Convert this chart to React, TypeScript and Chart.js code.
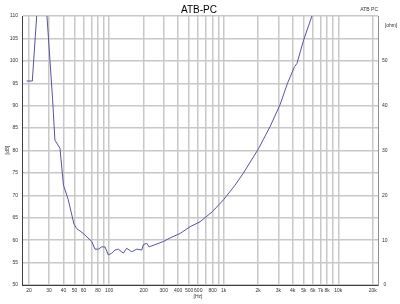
import React, { useEffect, useRef } from "react";
import { Chart, registerables } from "chart.js";

Chart.register(...registerables);

const freqHz = [19.1, 21.4, 25.9, 32.2, 33.7, 37.3, 40, 44.1, 49.4, 52.2, 59.6, 70.6, 75.4, 80.6, 86.3, 92.2, 98.5, 105.5, 112.8, 120.5, 133.2, 142.6, 157.7, 174.5, 192.9, 199.2, 213.4, 223.5, 297.9, 340.6, 416.6, 509.5, 622.6, 800, 996, 1250, 1489, 2014, 2547, 3112, 3604, 4152, 4357, 4978, 5888, 6500];
const levelDb = [95.5, 95.5, 127, 91.3, 82.3, 80.5, 72.3, 69, 63.6, 62.6, 61.5, 59.7, 58, 58, 58.5, 58.5, 56.7, 57.1, 57.8, 58, 57.1, 58.2, 57.4, 58, 57.8, 59, 59.3, 58.5, 59.7, 60.5, 61.5, 63, 64.1, 66.4, 69, 72.2, 75, 80.4, 85.4, 90.3, 95, 98.7, 99.4, 104.6, 110, 113];

const gridFreqs = [20, 30, 40, 50, 60, 70, 80, 90, 100, 200, 300, 400, 500, 600, 700, 800, 900, 1000, 2000, 3000, 4000, 5000, 6000, 7000, 8000, 9000, 10000, 20000];
const freqLabels: Record<number, string> = {
  20: "20", 30: "30", 40: "40", 50: "50", 60: "60", 80: "80", 100: "100",
  200: "200", 300: "300", 400: "400", 500: "500", 600: "600", 800: "800", 1000: "1k",
  2000: "2k", 3000: "3k", 4000: "4k", 5000: "5k", 6000: "6k", 7000: "7k", 8000: "8k", 10000: "10k", 20000: "20k",
};
const titleText = "ATB-PC";
const cornerText = "ATB PC";

const FONT = "'Liberation Sans', Arial, sans-serif";

export default function App() {
  const ref = useRef<HTMLCanvasElement | null>(null);
  useEffect(() => {
    document.body.style.margin = "0";
    const textPlugin = {
      id: "texts",
      afterDraw(chart: any) {
        const ctx = chart.ctx;
        const a = chart.chartArea;
        ctx.save();
        ctx.fillStyle = "#000";
        ctx.textAlign = "center";
        ctx.textBaseline = "middle";
        ctx.font = `10px ${FONT}`;
        ctx.fillText(titleText, 199, 10);
        ctx.fillStyle = "#333";
        ctx.font = `5px ${FONT}`;
        ctx.textAlign = "right";
        ctx.fillText(cornerText, a.right, 10);
        ctx.textAlign = "center";
        ctx.fillText("[ohm]", 391, 26);
        ctx.fillText("[Hz]", 198, 297);
        ctx.translate(8, 150);
        ctx.rotate(-Math.PI / 2);
        ctx.fillText("[dB]", 0, 0);
        ctx.restore();
      },
    };
    const chart = new Chart(ref.current as HTMLCanvasElement, {
      type: "line",
      data: {
        datasets: [
          {
            data: freqHz.map((f, i) => ({ x: f, y: levelDb[i] })),
            borderColor: "#5555a0",
            borderWidth: 1,
            pointRadius: 0,
            tension: 0,
            yAxisID: "y",
          },
        ],
      },
      options: {
        animation: false,
        responsive: false,
        layout: { padding: { top: 16, left: 0, right: 0, bottom: 0 } },
        plugins: { legend: { display: false }, title: { display: false }, tooltip: { enabled: false } },
        scales: {
          x: {
            type: "logarithmic",
            min: 17.4,
            max: 22200,
            afterBuildTicks: (s: any) => {
              s.ticks = gridFreqs.map((v) => ({ value: v }));
            },
            afterFit: (s: any) => {
              s.height = 19;
            },
            grid: { color: "#c8c8c8", lineWidth: 1.5, drawTicks: false },
            border: { display: true, color: "#404040", width: 1 },
            ticks: {
              autoSkip: false,
              maxRotation: 0,
              padding: 3,
              font: { size: 5, family: FONT },
              color: "#333",
              callback: (v: any) => freqLabels[Number(v)] ?? "",
            },
          },
          y: {
            type: "linear",
            position: "left",
            min: 50,
            max: 110,
            afterFit: (s: any) => {
              s.width = 22;
            },
            grid: { color: "#c8c8c8", lineWidth: 1.5, drawTicks: false },
            border: { display: true, color: "#404040", width: 1 },
            ticks: { stepSize: 5, padding: 4, font: { size: 5, family: FONT }, color: "#333" },
          },
          y2: {
            type: "linear",
            position: "right",
            min: 0,
            max: 60,
            afterFit: (s: any) => {
              s.width = 22;
            },
            grid: { drawOnChartArea: false, drawTicks: false },
            border: { display: true, color: "#909090", width: 1 },
            ticks: {
              stepSize: 10,
              crossAlign: "center",
              padding: 4,
              font: { size: 5, family: FONT },
              color: "#333",
              callback: (v: any) => (Number(v) === 60 ? "" : String(v)),
            },
          },
        },
      },
      plugins: [textPlugin],
    } as any);
    return () => chart.destroy();
  }, []);
  return <canvas ref={ref} width={400} height={304} style={{ display: "block" }} />;
}
